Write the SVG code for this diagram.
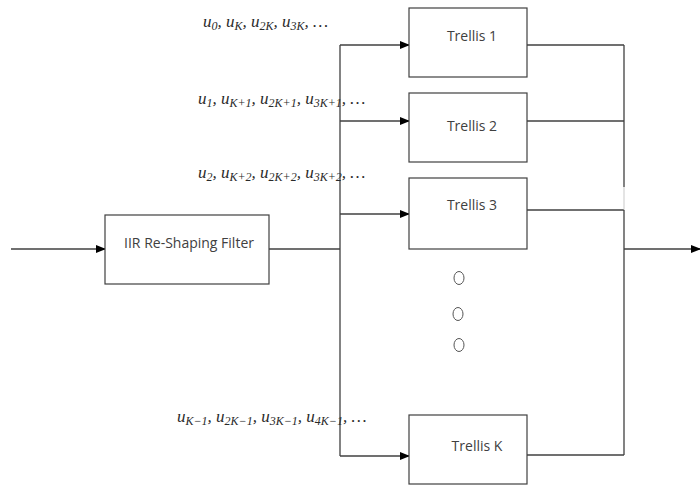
<svg xmlns="http://www.w3.org/2000/svg" width="700" height="485" viewBox="0 0 700 485">
<defs>
<marker id="ah" markerWidth="10" markerHeight="8" refX="9" refY="4" orient="auto" markerUnits="userSpaceOnUse">
<path d="M0,0 L10,4 L0,8 Z" fill="#000"/>
</marker>
<style>
.box{fill:#fff;stroke:#404040;stroke-width:1.2}
.ln{fill:none;stroke:#404040;stroke-width:1.3}
.lbl{font-family:"Open Sans","Noto Sans","Liberation Sans",sans-serif;font-size:14px;fill:#404040}
.m{font-family:"Liberation Serif","DejaVu Serif",serif;font-style:italic;font-size:17px;fill:#2a2a2a}
.s{font-size:12px}
.dot{fill:none;stroke:#555;stroke-width:1}
</style>
</defs>
<rect width="700" height="485" fill="#fff"/>
<g id="connectors">
<line class="ln" x1="11" y1="249" x2="105" y2="249" marker-end="url(#ah)"/>
<polyline class="ln" points="269,249 340,249"/>
<line class="ln" x1="340" y1="45" x2="340" y2="456"/>
<line class="ln" x1="340" y1="45" x2="409" y2="45" marker-end="url(#ah)"/>
<line class="ln" x1="340" y1="121" x2="409" y2="121" marker-end="url(#ah)"/>
<line class="ln" x1="340" y1="214" x2="409" y2="214" marker-end="url(#ah)"/>
<line class="ln" x1="340" y1="456" x2="409" y2="456" marker-end="url(#ah)"/>
<line class="ln" x1="527" y1="45" x2="624" y2="45"/>
<line class="ln" x1="527" y1="121" x2="624" y2="121"/>
<line class="ln" x1="527" y1="210" x2="624" y2="210"/>
<line class="ln" x1="527" y1="455" x2="624" y2="455"/>
<line class="ln" x1="624" y1="45" x2="624" y2="187"/>
<line x1="624" y1="187" x2="624" y2="210" stroke="#bbb" stroke-width="0.8"/>
<line class="ln" x1="624" y1="210" x2="624" y2="455"/>
<line class="ln" x1="624" y1="249" x2="700" y2="249" marker-end="url(#ah)"/>
</g>
<g id="filter">
<rect class="box" x="105" y="215" width="164" height="69"/>
<text class="lbl" x="189" y="248" text-anchor="middle">IIR Re-Shaping Filter</text>
</g>
<g id="trellis1">
<rect class="box" x="409" y="8" width="118" height="69"/>
<text class="lbl" x="472" y="41" text-anchor="middle">Trellis 1</text>
</g>
<g id="trellis2">
<rect class="box" x="409" y="93" width="118" height="69"/>
<text class="lbl" x="472" y="131" text-anchor="middle">Trellis 2</text>
</g>
<g id="trellis3">
<rect class="box" x="409" y="178" width="118" height="71"/>
<text class="lbl" x="472" y="210" text-anchor="middle">Trellis 3</text>
</g>
<g id="trellisK">
<rect class="box" x="409" y="415" width="118" height="69"/>
<text class="lbl" x="477" y="451" text-anchor="middle">Trellis K</text>
</g>
<g id="dots">
<ellipse class="dot" cx="459" cy="278" rx="5" ry="6.5"/>
<ellipse class="dot" cx="458" cy="314" rx="5" ry="6.5"/>
<ellipse class="dot" cx="459" cy="345" rx="5" ry="6.5"/>
</g>
<g id="labels">
<text class="m" x="203" y="27">u<tspan class="s" dy="3">0</tspan><tspan dy="-3">, u</tspan><tspan class="s" dy="3">K</tspan><tspan dy="-3">, u</tspan><tspan class="s" dy="3">2K</tspan><tspan dy="-3">, u</tspan><tspan class="s" dy="3">3K</tspan><tspan dy="-3">, …</tspan></text>
<text class="m" x="198" y="104">u<tspan class="s" dy="3">1</tspan><tspan dy="-3">, u</tspan><tspan class="s" dy="3">K+1</tspan><tspan dy="-3">, u</tspan><tspan class="s" dy="3">2K+1</tspan><tspan dy="-3">, u</tspan><tspan class="s" dy="3">3K+1</tspan><tspan dy="-3">, …</tspan></text>
<text class="m" x="198" y="178">u<tspan class="s" dy="3">2</tspan><tspan dy="-3">, u</tspan><tspan class="s" dy="3">K+2</tspan><tspan dy="-3">, u</tspan><tspan class="s" dy="3">2K+2</tspan><tspan dy="-3">, u</tspan><tspan class="s" dy="3">3K+2</tspan><tspan dy="-3">, …</tspan></text>
<text class="m" x="177" y="422">u<tspan class="s" dy="3">K−1</tspan><tspan dy="-3">, u</tspan><tspan class="s" dy="3">2K−1</tspan><tspan dy="-3">, u</tspan><tspan class="s" dy="3">3K−1</tspan><tspan dy="-3">, u</tspan><tspan class="s" dy="3">4K−1</tspan><tspan dy="-3">, …</tspan></text>
</g>
</svg>
